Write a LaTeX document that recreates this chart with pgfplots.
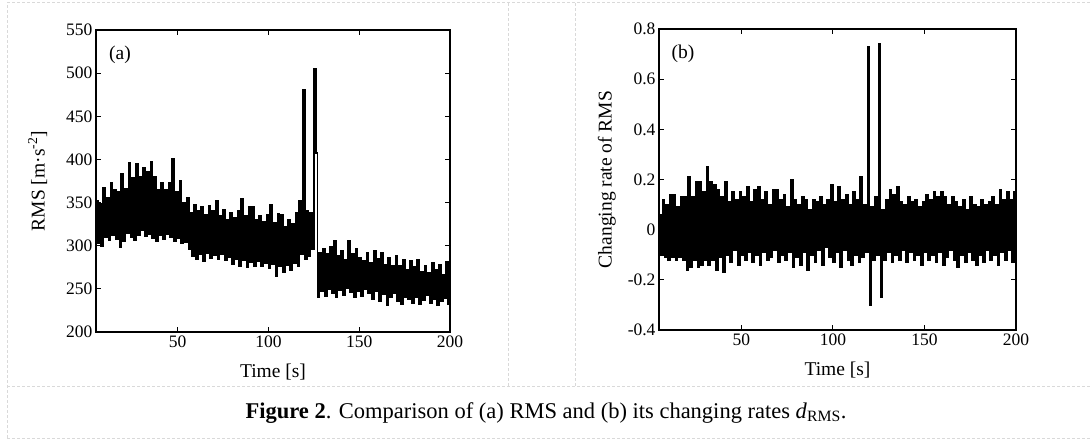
\documentclass[border=0pt]{standalone}
\usepackage{pgfplots}
\pgfplotsset{compat=1.18}
\usepackage{fontspec}
\setmainfont{Liberation Serif}

% RMS series, one sample per second (high/low alternate, read off the envelopes)
\newcommand{\rmsdata}{
(5,352) (6,303) (7,348) (8,300) (9,367) (10,310) (11,355) (12,306) (13,373) (14,312)
(15,365) (16,308) (17,362) (18,298) (19,383) (20,305) (21,366) (22,315) (23,396) (24,310)
(25,378) (26,306) (27,395) (28,312) (29,380) (30,318) (31,390) (32,311) (33,385) (34,314)
(35,397) (36,309) (37,380) (38,305) (39,365) (40,312) (41,373) (42,308) (43,365) (44,313)
(45,373) (46,310) (47,400) (48,305) (49,362) (50,309) (51,375) (52,303) (53,350) (54,304)
(55,355) (56,296) (57,338) (58,288) (59,347) (60,284) (61,340) (62,290) (63,345) (64,282)
(65,336) (66,292) (67,346) (68,286) (69,340) (70,289) (71,352) (72,284) (73,335) (74,290)
(75,342) (76,283) (77,330) (78,287) (79,338) (80,279) (81,332) (82,285) (83,340) (84,276)
(85,354) (86,283) (87,334) (88,275) (89,345) (90,281) (91,345) (92,277) (93,330) (94,282)
(95,334) (96,276) (97,328) (98,280) (99,336) (100,274) (101,347) (102,279) (103,326) (104,265)
(105,337) (106,276) (107,336) (108,270) (109,322) (110,278) (111,330) (112,272) (113,325) (114,280)
(115,338) (116,276) (117,352) (118,290) (119,480) (120,285) (121,340) (122,288) (123,338) (124,296)
(125,505) (126,407) (127,240) (128,292) (129,248) (130,296) (131,242) (132,290) (133,250) (134,298)
(135,245) (136,306) (137,240) (138,288) (139,249) (140,294) (141,243) (142,284) (143,251) (144,306)
(145,246) (146,290) (147,240) (148,296) (149,248) (150,286) (151,242) (152,282) (153,250) (154,292)
(155,245) (156,280) (157,238) (158,294) (159,247) (160,285) (161,236) (162,292) (163,244) (164,278)
(165,231) (166,286) (167,240) (168,277) (169,245) (170,288) (171,236) (172,276) (173,232) (174,284)
(175,241) (176,272) (177,238) (178,282) (179,234) (180,275) (181,240) (182,284) (183,232) (184,270)
(185,237) (186,276) (187,243) (188,268) (189,233) (190,280) (191,238) (192,272) (193,231) (194,278)
(195,236) (196,266) (197,239) (198,281) (199,232) (200,272)
}

% changing rate of RMS
\newcommand{\ratedata}{
(5,0.06) (6,-0.10) (7,0.12) (8,-0.11) (9,0.10) (10,-0.12) (11,0.14) (12,-0.11) (13,0.14) (14,-0.12)
(15,0.09) (16,-0.11) (17,0.13) (18,-0.12) (19,0.13) (20,-0.16) (21,0.21) (22,-0.15) (23,0.13) (24,-0.12)
(25,0.19) (26,-0.15) (27,0.19) (28,-0.14) (29,0.15) (30,-0.12) (31,0.25) (32,-0.14) (33,0.19) (34,-0.12)
(35,0.18) (36,-0.16) (37,0.16) (38,-0.11) (39,0.13) (40,-0.17) (41,0.19) (42,-0.10) (43,0.11) (44,-0.13)
(45,0.15) (46,-0.08) (47,0.12) (48,-0.14) (49,0.15) (50,-0.10) (51,0.13) (52,-0.12) (53,0.17) (54,-0.09)
(55,0.11) (56,-0.13) (57,0.16) (58,-0.10) (59,0.17) (60,-0.14) (61,0.12) (62,-0.09) (63,0.15) (64,-0.12)
(65,0.10) (66,-0.11) (67,0.16) (68,-0.08) (69,0.16) (70,-0.13) (71,0.12) (72,-0.10) (73,0.14) (74,-0.12)
(75,0.09) (76,-0.09) (77,0.20) (78,-0.15) (79,0.12) (80,-0.11) (81,0.10) (82,-0.14) (83,0.13) (84,-0.09)
(85,0.12) (86,-0.16) (87,0.08) (88,-0.10) (89,0.12) (90,-0.13) (91,0.11) (92,-0.08) (93,0.13) (94,-0.14)
(95,0.10) (96,-0.07) (97,0.12) (98,-0.11) (99,0.18) (100,-0.13) (101,0.11) (102,-0.09) (103,0.17) (104,-0.15)
(105,0.12) (106,-0.08) (107,0.14) (108,-0.12) (109,0.10) (110,-0.14) (111,0.15) (112,-0.10) (113,0.12) (114,-0.13)
(115,0.21) (116,-0.11) (117,0.10) (118,-0.09) (119,0.73) (120,-0.30) (121,0.09) (122,-0.12) (123,0.13) (124,-0.10)
(125,0.74) (126,-0.27) (127,0.08) (128,-0.12) (129,0.12) (130,-0.09) (131,0.16) (132,-0.13) (133,0.14) (134,-0.10)
(135,0.17) (136,-0.12) (137,0.11) (138,-0.08) (139,0.10) (140,-0.13) (141,0.13) (142,-0.09) (143,0.11) (144,-0.12)
(145,0.12) (146,-0.10) (147,0.09) (148,-0.14) (149,0.11) (150,-0.09) (151,0.14) (152,-0.12) (153,0.12) (154,-0.10)
(155,0.15) (156,-0.13) (157,0.13) (158,-0.09) (159,0.15) (160,-0.14) (161,0.13) (162,-0.11) (163,0.10) (164,-0.08)
(165,0.13) (166,-0.12) (167,0.11) (168,-0.15) (169,0.09) (170,-0.10) (171,0.12) (172,-0.13) (173,0.08) (174,-0.09)
(175,0.13) (176,-0.12) (177,0.10) (178,-0.14) (179,0.09) (180,-0.10) (181,0.12) (182,-0.13) (183,0.10) (184,-0.08)
(185,0.11) (186,-0.12) (187,0.13) (188,-0.10) (189,0.10) (190,-0.14) (191,0.16) (192,-0.09) (193,0.12) (194,-0.12)
(195,0.15) (196,-0.08) (197,0.12) (198,-0.13) (199,0.15) (200,-0.11)
}

\pgfplotsset{
  panel/.style={
    scale only axis,
    anchor=south west,
    xmin=5, xmax=200,
    xtick={50,100,150,200},
    tick align=inside,
    major tick length=5pt,
    axis line style={line width=1.6pt},
    every tick/.style={black, line width=1pt},
    /pgf/number format/assume math mode=true,
    tick label style={font=\fontsize{17.5}{20}\selectfont},
    label style={font=\fontsize{19.5}{22}\selectfont},
    xlabel={Time [s]},
    xlabel style={at={(axis description cs:0.5,-0.133)}, anchor=center},
  },
}

\begin{document}
\begin{tikzpicture}
  \path[use as bounding box] (0pt,0pt) rectangle (1092pt,439pt);
  % light dashed frame round the figure
  \begin{scope}[gray!30, line width=0.8pt, dash pattern=on 3pt off 2pt]
    \draw (7pt,437pt) -- (1092pt,437pt);
    \draw (7pt,1pt) -- (1092pt,1pt);
    \draw (7pt,53pt) -- (1092pt,53pt);
    \draw (7pt,1pt) -- (7pt,437pt);
    \draw (508pt,53pt) -- (508pt,437pt);
    \draw (575pt,53pt) -- (575pt,437pt);
  \end{scope}

  \begin{axis}[panel,
    at={(96pt,107pt)}, width=354pt, height=302pt,
    ymin=200, ymax=550, ytick={200,250,...,550},
    ylabel={RMS [m·s\textsuperscript{-2}]},
    ylabel style={at={(axis description cs:-0.165,0.5)}, anchor=center},
  ]
    \addplot[black, line width=1.9pt, const plot] coordinates {\rmsdata};
    \node[font=\fontsize{19.5}{22}\selectfont] at (axis description cs:0.068,0.917) {(a)};
  \end{axis}

  \begin{axis}[panel,
    at={(659pt,109pt)}, width=357pt, height=301pt,
    ymin=-0.4, ymax=0.8, ytick={-0.4,-0.2,...,0.8},
    yticklabel style={/pgf/number format/fixed, /pgf/number format/precision=1},
    ylabel={Changing rate of RMS},
    ylabel style={at={(axis description cs:-0.146,0.5)}, anchor=center},
  ]
    \addplot[black, line width=1.9pt, const plot] coordinates {\ratedata};
    \node[font=\fontsize{19.5}{22}\selectfont] at (axis description cs:0.067,0.917) {(b)};
  \end{axis}

  \node[font=\fontsize{22.5}{26}\selectfont] at (546pt,26pt)
    {\textbf{Figure 2}. Comparison of (a) RMS and (b) its changing rates \textit{d}\textsubscript{RMS}.};
\end{tikzpicture}
\end{document}
